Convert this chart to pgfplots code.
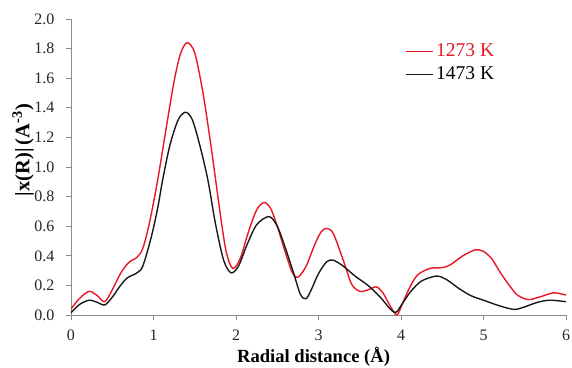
\documentclass[border=0pt]{standalone}
\usepackage{pgfplots}
\pgfplotsset{compat=1.18}
\usepackage{fontspec}
\setmainfont{Liberation Serif}
\definecolor{myred}{RGB}{232,24,36}
\definecolor{axgray}{RGB}{140,140,140}
\begin{document}
\begin{tikzpicture}
\begin{axis}[
  name=ax,
  scale only axis,
  width=495pt, height=296pt,
  xmin=0, xmax=6, ymin=0, ymax=2,
  axis x line*=bottom, axis y line*=left,
  axis line style={axgray, line width=0.8pt, -},
  xtick={0,1,2,3,4,5,6},
  ytick={0,0.2,0.4,0.6,0.8,1.0,1.2,1.4,1.6,1.8,2.0},
  tick style={axgray, line width=0.8pt},
  tick align=outside,
  major tick length=5pt,
  /pgf/number format/assume math mode=true,
  yticklabel style={/pgf/number format/.cd, fixed, fixed zerofill, precision=1, /tikz/.cd, xshift=-8pt},
  xticklabel style={/pgf/number format/.cd, fixed, precision=0, /tikz/.cd, yshift=-6pt},
  ticklabel style={font=\fontsize{16}{18}\selectfont, text=black!85},
  every axis x label/.style={at={(axis description cs:0.49,-0.142)}, anchor=center},
  every axis y label/.style={at={(axis description cs:-0.097,0.557)}, anchor=center, rotate=90},
  xlabel={\textbf{Radial distance (Å)}},
  ylabel={\textbf{|x(R)|\,(A\textsuperscript{-3})}},
  xlabel style={font=\fontsize{18.6}{20}\selectfont},
  ylabel style={font=\fontsize{20.5}{22}\selectfont},
  legend style={draw=none, fill=none, at={(0.674,0.925)}, anchor=north west,
    font=\fontsize{19.5}{21}\selectfont, inner sep=0pt, row sep=3pt,
    nodes={inner xsep=3pt, inner ysep=1pt, text height=14pt, text depth=4pt}},
  legend cell align=left,
  legend image code/.code={\draw[#1, line width=1.4pt] (0pt,0pt) -- (27pt,0pt);},
]
\addplot[myred, line width=1.4pt, smooth, tension=0.5] coordinates {
(0,0.04) (0.1,0.11) (0.22,0.16) (0.32,0.13) (0.41,0.09) (0.5,0.17) (0.6,0.28)
(0.7,0.355) (0.8,0.39) (0.87,0.45) (0.95,0.62) (1.05,0.91) (1.15,1.25)
(1.25,1.58) (1.33,1.77) (1.41,1.84) (1.5,1.77) (1.6,1.5) (1.7,1.13) (1.8,0.72)
(1.88,0.43) (1.96,0.315) (2.05,0.38) (2.15,0.56) (2.25,0.71) (2.34,0.76)
(2.42,0.72) (2.5,0.6) (2.6,0.42) (2.68,0.29) (2.75,0.255) (2.85,0.33)
(2.95,0.47) (3.03,0.56) (3.1,0.585) (3.18,0.55) (3.3,0.37) (3.4,0.21)
(3.5,0.16) (3.6,0.17) (3.7,0.19) (3.78,0.15) (3.87,0.06) (3.95,0.0)
(4.02,0.08) (4.1,0.18) (4.2,0.27) (4.35,0.315) (4.5,0.32) (4.6,0.34)
(4.75,0.40) (4.9,0.44) (5.0,0.43) (5.1,0.38) (5.2,0.29) (5.3,0.21) (5.4,0.14)
(5.5,0.11) (5.57,0.105) (5.7,0.125) (5.85,0.15) (6.0,0.135)
};
\addlegendentry{\textcolor{myred}{1273 K}}
\addplot[black!90, line width=1.4pt, smooth, tension=0.5] coordinates {
(0,0.015) (0.1,0.07) (0.22,0.10) (0.32,0.085) (0.41,0.068) (0.5,0.12) (0.6,0.2)
(0.68,0.25) (0.8,0.285) (0.87,0.33) (0.97,0.52) (1.05,0.72) (1.11,0.91)
(1.2,1.15) (1.3,1.32) (1.39,1.37) (1.47,1.32) (1.56,1.15) (1.66,0.91)
(1.75,0.62) (1.85,0.37) (1.94,0.285) (2.03,0.33) (2.13,0.47) (2.25,0.61)
(2.4,0.665) (2.5,0.6) (2.6,0.45) (2.7,0.28) (2.78,0.14) (2.85,0.11) (2.92,0.18)
(3.0,0.28) (3.1,0.36) (3.18,0.37) (3.3,0.33) (3.45,0.26) (3.6,0.2) (3.75,0.12)
(3.87,0.04) (3.94,0.018) (4.02,0.08) (4.12,0.16) (4.25,0.23) (4.43,0.263)
(4.55,0.24) (4.7,0.18) (4.85,0.13) (5.0,0.10) (5.15,0.07) (5.3,0.045)
(5.39,0.038) (5.5,0.055) (5.65,0.085) (5.8,0.10) (6.0,0.09)
};
\addlegendentry{1473 K}
\end{axis}
\pgfresetboundingbox
\path ([xshift=-71pt,yshift=-52pt]ax.south west) rectangle ([xshift=6pt,yshift=19pt]ax.north east);
\end{tikzpicture}
\end{document}
